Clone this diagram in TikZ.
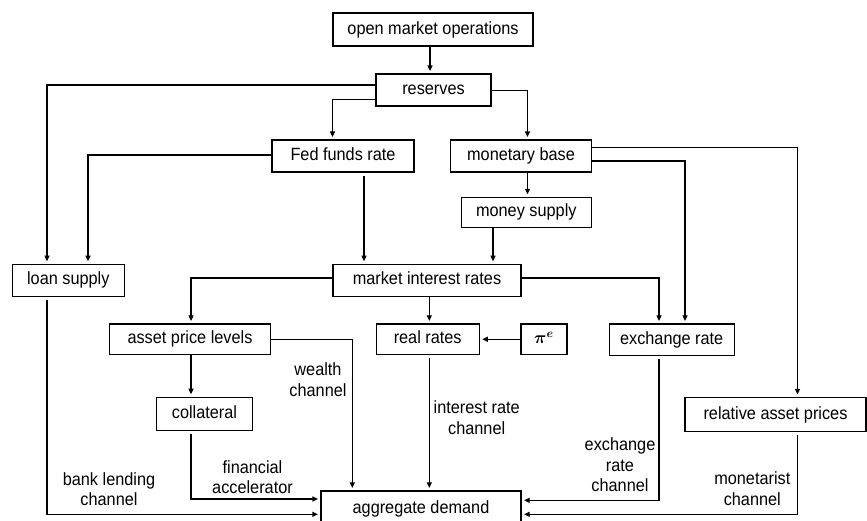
\documentclass[tikz,border=0pt]{standalone}
\usepackage{fontspec}
\setmainfont{Liberation Sans}[FakeStretch=0.92]
\usetikzlibrary{arrows.meta}
\newcommand{\mypie}{\mbox{\boldmath$\pi^{e}$}}
\begin{document}
\begin{tikzpicture}[x=1pt,y=-1pt,
  font=\fontsize{17.7pt}{20.5pt}\selectfont,
  box/.style={draw,line width=1.1pt,inner sep=0pt,text height=13pt,text depth=4pt,anchor=center},
  arr/.style={line width=1.1pt,-{Triangle[length=5.5pt,width=5pt]},shorten >=2.5pt},
  frombot/.style={shorten <=3pt},
  lbl/.style={align=center,inner sep=0pt,anchor=center}]
\useasboundingbox (0,0) rectangle (867,520);
\clip (0,0) rectangle (867,520);
% boxes
\node[box,minimum width=200pt,minimum height=33pt] (omo) at (433,29.5) {open market operations};
\node[box,minimum width=115pt,minimum height=32pt] (res) at (433.5,90) {reserves};
\node[box,minimum width=142pt,minimum height=32pt] (fed) at (343,156) {Fed funds rate};
\node[box,minimum width=141pt,minimum height=32pt] (mb) at (521,156) {monetary base};
\node[box,minimum width=130pt,minimum height=30pt] (ms) at (526.3,212.3) {money supply};
\node[box,minimum width=112pt,minimum height=32pt] (loan) at (68.3,280.2) {loan supply};
\node[box,minimum width=188pt,minimum height=32pt] (mir) at (427,280.2) {market interest rates};
\node[box,minimum width=161pt,minimum height=30.5pt] (apl) at (190,339.2) {asset price levels};
\node[box,minimum width=103pt,minimum height=30.5pt] (rr) at (427.7,339.2) {real rates};
\node[box,minimum width=46pt,minimum height=30.5pt] (infl) at (544,339.2) {\mypie};
\node[box,minimum width=125pt,minimum height=31.5pt] (er) at (671.7,339.7) {exchange rate};
\node[box,minimum width=96pt,minimum height=33pt] (coll) at (204.5,413.7) {collateral};
\node[box,minimum width=181pt,minimum height=34pt] (rap) at (775.5,414.5) {relative asset prices};
\node[box,minimum width=200pt,minimum height=35pt] (ad) at (421,508.5) {aggregate demand};
% labels
\node[lbl] (lw) at (318,379.5) {wealth\\channel};
\node[lbl] (lb) at (109,489.2) {bank lending\\channel};
\node[lbl] (lf) at (252.5,477.3) {financial\\accelerator};
\node[lbl] (li) at (476.7,417.7) {interest rate\\channel};
\node[lbl] (le) at (620,464.9) {exchange\\rate\\channel};
\node[lbl] (lm) at (752.3,488.9) {monetarist\\channel};
% connectors
\draw[arr] (omo.south -| 430,0) -- (res.north -| 430,0);
\draw[arr] (res.west |- 0,85) -| (loan.north -| 47,0);
\draw[arr] (res.west |- 0,99.5) -| (fed.north -| 332.5,0);
\draw[arr] (res.east |- 0,90.5) -| (mb.north -| 527.5,0);
\draw[arr] (fed.west |- 0,155) -| (loan.north -| 88,0);
\draw[arr,frombot] (fed.south -| 364,0) -- (mir.north -| 364,0);
\draw[arr] (mb.south -| 527.5,0) -- (ms.north -| 527.5,0);
\draw[arr] (mb.east |- 0,147.5) -| (rap.north -| 797.5,0);
\draw[arr] (mb.east |- 0,161) -| (er.north -| 685,0);
\draw[arr] (ms.south -| 493,0) -- (mir.north -| 493,0);
\draw[arr] (mir.east |- 0,278) -| (er.north -| 659,0);
\draw[arr] (mir.west |- 0,278) -| (apl.north -| 191,0);
\draw[arr] (mir.south -| 429.3,0) -- (rr.north -| 429.3,0);
\draw[arr] (infl.west) -- (rr.east);
\draw[arr] (apl.east |- 0,339.5) -| (ad.north -| 352.3,0);
\draw[arr] (apl.south -| 191,0) -- (coll.north -| 191,0);
\draw[arr,frombot] (coll.south -| 191,0) |- (ad.west |- 0,499);
\draw[arr,frombot] (loan.south -| 47,0) |- (ad.west |- 0,514.3);
\draw[arr,frombot] (rr.south -| 429.3,0) -- (ad.north -| 429.3,0);
\draw[arr,frombot] (er.south -| 659,0) |- (ad.east |- 0,500.3);
\draw[arr,frombot] (rap.south -| 797.5,0) |- (ad.east |- 0,514.3);
\end{tikzpicture}
\end{document}
